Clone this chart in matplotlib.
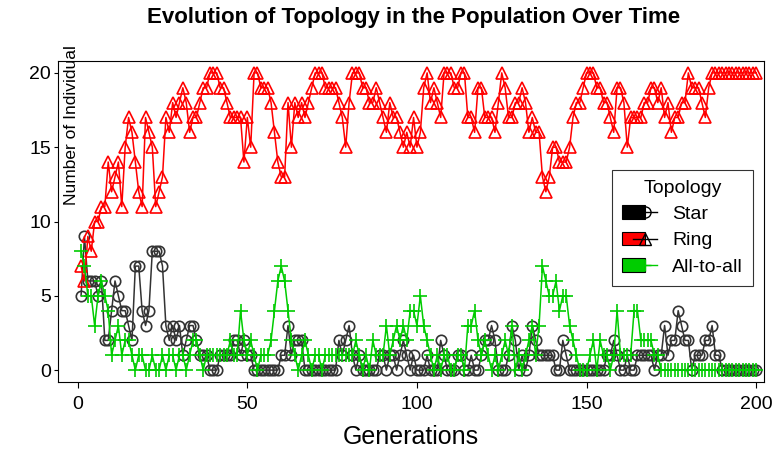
import matplotlib
matplotlib.use("Agg")
import matplotlib.pyplot as plt
from matplotlib.lines import Line2D
from matplotlib.patches import Patch
from matplotlib.legend_handler import HandlerTuple

plt.rcParams['font.family'] = ['Liberation Sans', 'DejaVu Sans']

generations = list(range(1, 201))

ring = [7, 6, 9, 8, 10, 10, 11, 11, 14, 12,
        13, 14, 11, 15, 17, 16, 14, 12, 11, 17,
        16, 15, 11, 12, 13, 17, 16, 18, 17, 18,
        19, 18, 16, 17, 17, 18, 19, 19, 20, 20,
        20, 19, 19, 18, 17, 17, 17, 17, 14, 17,
        15, 20, 20, 19, 19, 19, 18, 16, 14, 13,
        13, 18, 15, 18, 17, 18, 17, 18, 19, 20,
        20, 20, 19, 19, 19, 19, 18, 17, 15, 18,
        20, 20, 20, 19, 19, 18, 18, 19, 18, 17,
        16, 18, 17, 17, 16, 15, 16, 15, 17, 15,
        16, 19, 20, 18, 19, 18, 17, 20, 20, 20,
        19, 19, 20, 20, 17, 17, 16, 19, 19, 17,
        17, 17, 16, 18, 20, 19, 17, 17, 18, 18,
        19, 18, 16, 17, 16, 16, 13, 12, 13, 15,
        15, 14, 14, 14, 15, 17, 18, 18, 19, 20,
        20, 20, 19, 19, 18, 18, 17, 16, 19, 19,
        18, 15, 17, 17, 17, 17, 18, 18, 19, 19,
        18, 19, 17, 18, 16, 17, 17, 18, 18, 20,
        19, 19, 19, 18, 17, 19, 20, 20, 20, 20,
        20, 20, 20, 20, 20, 20, 20, 20, 20, 20]

star = [5, 9, 6, 6, 6, 5, 6, 2, 2, 4,
        6, 5, 4, 4, 3, 2, 7, 7, 4, 3,
        4, 8, 8, 8, 7, 3, 2, 3, 2, 3,
        1, 2, 3, 3, 2, 1, 1, 1, 0, 0,
        0, 1, 1, 1, 1, 2, 2, 1, 2, 1,
        1, 0, 0, 0, 0, 0, 0, 0, 0, 1,
        1, 3, 1, 2, 2, 2, 0, 0, 0, 0,
        0, 0, 0, 0, 0, 0, 2, 1, 2, 3,
        1, 0, 1, 0, 0, 0, 0, 0, 1, 1,
        0, 1, 1, 0, 1, 2, 1, 0, 1, 0,
        0, 0, 1, 0, 0, 0, 2, 1, 0, 0,
        0, 1, 1, 0, 0, 1, 0, 0, 1, 2,
        2, 3, 2, 0, 0, 0, 1, 3, 2, 0,
        1, 0, 1, 3, 2, 1, 1, 1, 1, 1,
        0, 0, 2, 1, 0, 0, 0, 0, 0, 0,
        0, 0, 0, 0, 0, 1, 1, 2, 1, 0,
        0, 1, 0, 0, 1, 1, 1, 1, 1, 0,
        1, 1, 3, 1, 2, 2, 4, 3, 2, 2,
        0, 1, 1, 1, 2, 2, 3, 1, 1, 0,
        0, 0, 0, 0, 0, 0, 0, 0, 0, 0]

all_to_all = [8, 7, 5, 5, 3, 5, 6, 5, 4, 1,
              2, 3, 1, 2, 2, 1, 0, 1, 1, 0,
              0, 1, 0, 0, 1, 0, 1, 1, 0, 1,
              1, 0, 1, 2, 2, 1, 0, 1, 1, 1,
              1, 1, 1, 1, 2, 1, 1, 4, 2, 1,
              2, 1, 0, 1, 1, 1, 2, 4, 6, 7,
              6, 4, 2, 1, 0, 1, 2, 1, 0, 1,
              1, 0, 1, 1, 1, 1, 1, 1, 1, 1,
              1, 2, 1, 0, 1, 0, 2, 1, 1, 1,
              3, 1, 2, 3, 2, 3, 2, 4, 4, 3,
              5, 3, 2, 1, 0, 1, 0, 1, 1, 0,
              0, 1, 1, 0, 3, 3, 4, 2, 1, 2,
              1, 0, 1, 0, 1, 2, 1, 3, 0, 1,
              0, 1, 2, 3, 1, 3, 7, 6, 5, 5,
              6, 4, 5, 5, 3, 2, 1, 0, 0, 0,
              1, 2, 0, 2, 1, 1, 0, 1, 4, 1,
              1, 1, 1, 4, 4, 2, 2, 2, 2, 1,
              1, 0, 0, 0, 0, 0, 0, 0, 0, 0,
              0, 0, 0, 0, 0, 0, 0, 0, 0, 0,
              0, 0, 0, 0, 0, 0, 0, 0, 0, 0]

series_names = ["Star", "Ring", "All-to-all"]
colors = ["#000000", "#FF0000", "#00CC00"]
x_ticks = [0, 50, 100, 150, 200]
y_ticks = [0, 5, 10, 15, 20]

fig = plt.figure(figsize=(7.79, 4.5), dpi=100)
ax = fig.add_axes([58 / 779, 1 - 382 / 450, 706 / 779, 321 / 450])

ax.plot(generations, ring, color=colors[1], lw=1.1, marker='^', ms=9,
        mfc='none', mec=colors[1], mew=1.2, zorder=3)
ax.plot(generations, star, color='#333333', lw=1.1, marker='o', ms=7.5,
        mfc='none', mec='#333333', mew=1.2, zorder=2)
ax.plot(generations, all_to_all, color=colors[2], lw=1.1, marker='+', ms=10,
        mec=colors[2], mew=1.2, zorder=4)

ax.set_xlim(-5.8, 202.3)
ax.set_ylim(-0.8, 20.8)
ax.set_xticks(x_ticks)
ax.set_yticks(y_ticks)
ax.tick_params(axis='y', labelsize=14, length=3, width=0.8, pad=2)
ax.tick_params(axis='x', labelsize=14, length=4, width=0.8, pad=6)
for s in ax.spines.values():
    s.set_linewidth(0.8)

ax.set_xlabel("Generations", fontsize=18, labelpad=9)
fig.text(414 / 779, 1 - 18 / 450, "Evolution of Topology in the Population Over Time",
         ha='center', va='center', fontsize=16, fontweight='bold')
fig.text(72 / 779, 1 - 125 / 450, "Number of Individual", rotation=90,
         ha='center', va='center', fontsize=12.5)

handles = []
for c, m in zip(colors, ['o', '^', '+']):
    p = Patch(facecolor=c, edgecolor='black', lw=0.8)
    ln = Line2D([], [], color='black' if c != colors[2] else c, marker=m, ms=8,
                mfc='none', lw=1.0)
    handles.append((p, ln))

leg = ax.legend(handles, series_names, title="Topology", loc='upper left',
                bbox_to_anchor=(612 / 779, 1 - 170 / 450), bbox_transform=fig.transFigure,
                handler_map={tuple: HandlerTuple(ndivide=None, pad=-0.6)},
                fontsize=14, title_fontsize=14, frameon=True, fancybox=False,
                edgecolor='black', handlelength=1.8, labelspacing=0.45,
                borderpad=0.5, handletextpad=0.8, borderaxespad=0)
leg.get_frame().set_linewidth(0.8)

fig.savefig("out.png", dpi=100)
